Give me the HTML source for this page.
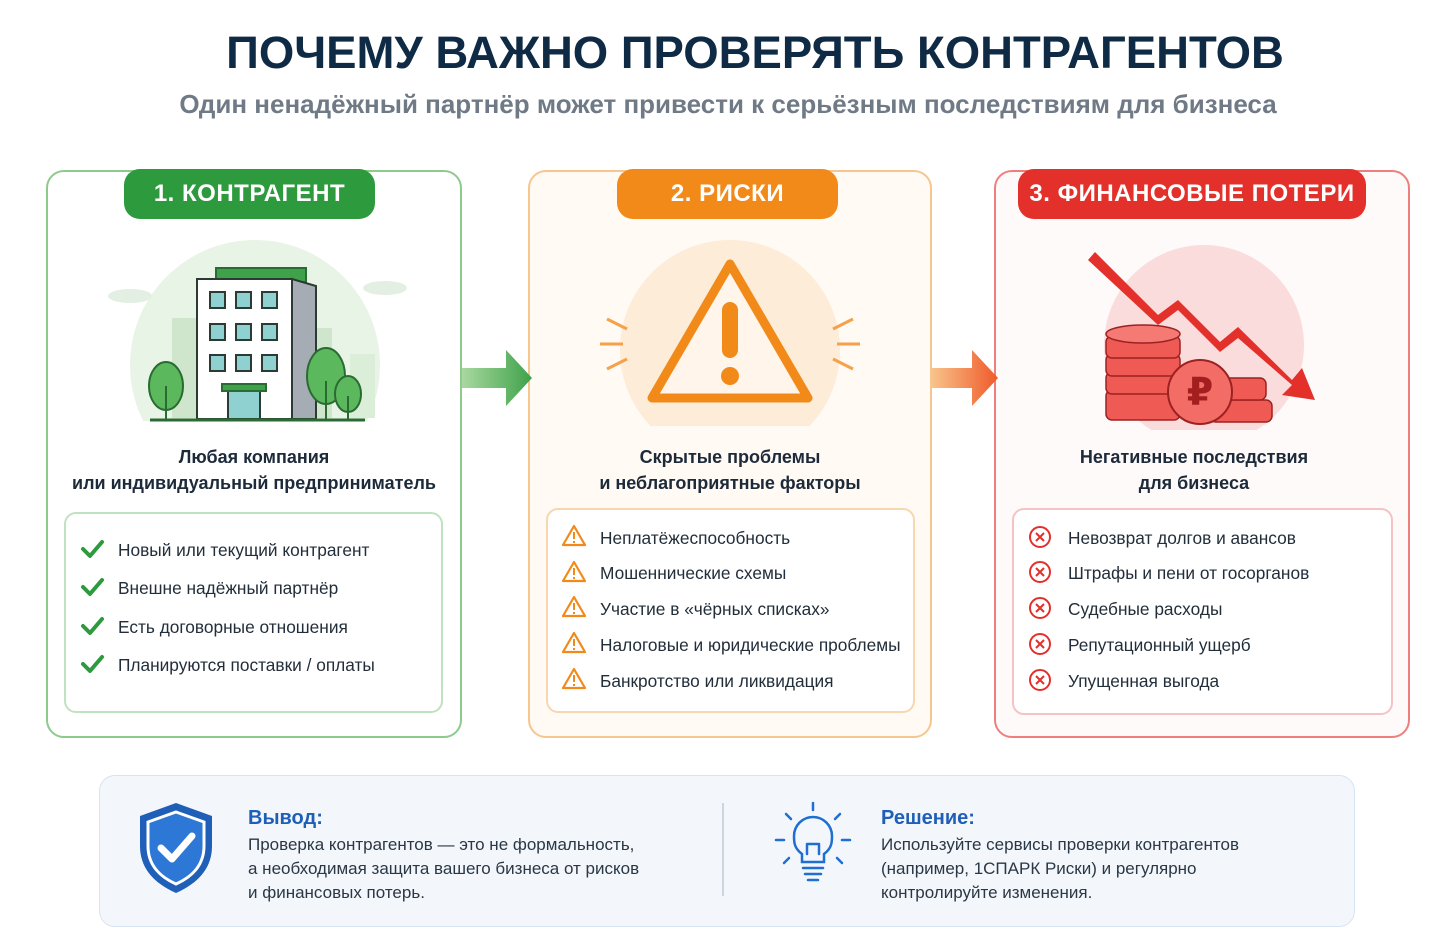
<!DOCTYPE html>
<html><head><meta charset="utf-8"><style>
*{margin:0;padding:0;box-sizing:border-box}
body{width:1430px;height:941px;background:#fff;font-family:"Liberation Sans","Noto Sans CJK SC",sans-serif;position:relative;overflow:hidden;color:#1d2b3a}
.abs{position:absolute}
.t1{left:0;width:1510px;top:27px;text-align:center;font-size:45.5px;font-weight:bold;color:#0f2a44}
.t2{left:0;width:1456px;top:89px;text-align:center;font-size:26px;font-weight:bold;color:#6f7a86}
.panel{border:2px solid;border-radius:18px}
.badge{border-radius:16px;color:#fff;font-size:24px;font-weight:bold;text-align:center;line-height:50px;letter-spacing:0.5px}
.head{text-align:center;font-size:18px;font-weight:bold;line-height:26px;color:#1c2a3a}
.inner{border:2px solid;border-radius:12px;background:#fff}
.li{position:absolute;font-size:17.3px;color:#222e3a;white-space:nowrap}
.bt{font-size:17px;line-height:24px;color:#2a3744}
.bh{font-size:20px;font-weight:bold;color:#1f5fb8}
</style></head><body>
<div class="abs t1">ПОЧЕМУ ВАЖНО ПРОВЕРЯТЬ КОНТРАГЕНТОВ</div>
<div class="abs t2">Один ненадёжный партнёр может привести к серьёзным последствиям для бизнеса</div>

<div class="abs panel" style="left:46px;top:170px;width:416px;height:568px;border-color:#8ccb8c;background:#fff"></div>
<div class="abs panel" style="left:528px;top:170px;width:404px;height:568px;border-color:#f6c690;background:#fffaf4"></div>
<div class="abs panel" style="left:994px;top:170px;width:416px;height:568px;border-color:#ef7f7f;background:#fffafa"></div>

<div class="abs badge" style="left:124px;top:169px;width:251px;background:#2e9a3e">1. КОНТРАГЕНТ</div>
<div class="abs badge" style="left:617px;top:169px;width:221px;background:#f28a1a">2. РИСКИ</div>
<div class="abs badge" style="left:1018px;top:169px;width:348px;background:#e3302b">3. ФИНАНСОВЫЕ ПОТЕРИ</div>

<svg class="abs" style="left:460px;top:348px" width="76" height="60"><defs><linearGradient id="ga"><stop offset="0" stop-color="#a9d8a0"/><stop offset="1" stop-color="#3fa24a"/></linearGradient></defs><path d="M2 20H46V2L72 30L46 58V40H2Z" fill="url(#ga)"/></svg>
<svg class="abs" style="left:930px;top:348px" width="72" height="60"><defs><linearGradient id="gb"><stop offset="0" stop-color="#f9c28a"/><stop offset="1" stop-color="#ef5a2a"/></linearGradient></defs><path d="M2 20H42V2L68 30L42 58V40H2Z" fill="url(#gb)"/></svg>

<!-- building -->
<svg class="abs" style="left:100px;top:230px" width="310" height="196">
<circle cx="155" cy="135" r="125" fill="#e8f4e6"/>
<rect x="0" y="191" width="310" height="10" fill="#fff"/>
<ellipse cx="30" cy="66" rx="22" ry="7" fill="#e3efe2"/><ellipse cx="285" cy="58" rx="22" ry="7" fill="#e3efe2"/>
<rect x="72" y="88" width="26" height="100" fill="#cfe6cc"/><rect x="210" y="98" width="22" height="90" fill="#cfe6cc"/><rect x="250" y="124" width="25" height="64" fill="#dbeed8"/>
<rect x="116" y="38" width="90" height="14" fill="#3fa24a" stroke="#2a6b33" stroke-width="2"/>
<rect x="97" y="49" width="95" height="140" fill="#fff" stroke="#2b3b33" stroke-width="2"/>
<path d="M192 49L216 56V189H192Z" fill="#a5acb3" stroke="#2b3b33" stroke-width="2"/>
<g fill="#8fd0d0" stroke="#2b3b33" stroke-width="2">
<rect x="110" y="62" width="15" height="16"/><rect x="136" y="62" width="15" height="16"/><rect x="162" y="62" width="15" height="16"/>
<rect x="110" y="94" width="15" height="16"/><rect x="136" y="94" width="15" height="16"/><rect x="162" y="94" width="15" height="16"/>
<rect x="110" y="125" width="15" height="16"/><rect x="136" y="125" width="15" height="16"/><rect x="162" y="125" width="15" height="16"/>
<rect x="128" y="161" width="32" height="28"/></g>
<rect x="122" y="154" width="44" height="7" fill="#3fa24a" stroke="#2a6b33" stroke-width="2"/>
<g fill="#5cb85c" stroke="#2a6b33" stroke-width="2"><ellipse cx="66" cy="156" rx="17" ry="24"/><ellipse cx="226" cy="146" rx="19" ry="28"/><ellipse cx="248" cy="164" rx="13" ry="18"/></g>
<g stroke="#2a6b33" stroke-width="2"><line x1="66" y1="156" x2="66" y2="190"/><line x1="226" y1="151" x2="226" y2="190"/><line x1="248" y1="166" x2="248" y2="190"/></g>
<line x1="50" y1="190" x2="265" y2="190" stroke="#2a6b33" stroke-width="3"/>
</svg>

<!-- warning -->
<svg class="abs" style="left:595px;top:230px" width="270" height="196">
<circle cx="135" cy="120" r="110" fill="#fdecd8"/>
<rect x="0" y="196" width="270" height="10" fill="#fffaf4"/>
<path d="M135 34L213 168H57Z" fill="#fff5ea" stroke="#f28a1a" stroke-width="9" stroke-linejoin="round"/>
<rect x="127" y="72" width="16" height="56" rx="8" fill="#f28a1a"/><circle cx="135" cy="146" r="9" fill="#f28a1a"/>
<g stroke="#f6a04a" stroke-width="3"><line x1="5" y1="114" x2="28" y2="114"/><line x1="12" y1="89" x2="32" y2="99"/><line x1="12" y1="139" x2="32" y2="129"/><line x1="242" y1="114" x2="265" y2="114"/><line x1="238" y1="99" x2="258" y2="89"/><line x1="238" y1="129" x2="258" y2="139"/></g>
</svg>

<!-- finance -->
<svg class="abs" style="left:1070px;top:240px" width="270" height="190">
<circle cx="134" cy="105" r="100" fill="#fbdcdc"/>
<g stroke="#9c2222" stroke-width="1.5" fill="#ef5a55">
<rect x="36" y="150" width="74" height="30" rx="6"/><rect x="36" y="132" width="74" height="22" rx="6"/><rect x="36" y="114" width="74" height="22" rx="6"/><rect x="36" y="96" width="74" height="22" rx="6"/><ellipse cx="73" cy="94" rx="37" ry="9" fill="#f57a74"/>
<rect x="140" y="160" width="62" height="22" rx="6"/><rect x="140" y="138" width="56" height="22" rx="6"/>
</g>
<path d="M25 12L88 75L108 60L150 102L168 87L222 140L232 128L245 160L212 155L222 145L168 98L150 112L108 70L88 85L18 20Z" fill="#e3302b"/>
<circle cx="130" cy="152" r="32" fill="#f36c66" stroke="#9c2222" stroke-width="2"/>
<text x="130" y="165" text-anchor="middle" font-size="38" font-weight="bold" fill="#a31e1e" font-family="Liberation Sans,DejaVu Sans,sans-serif">₽</text>
</svg>

<div class="abs head" style="left:46px;width:416px;top:444px">Любая компания<br>или индивидуальный предприниматель</div>
<div class="abs head" style="left:528px;width:404px;top:444px">Скрытые проблемы<br>и неблагоприятные факторы</div>
<div class="abs head" style="left:994px;width:400px;top:444px">Негативные последствия<br>для бизнеса</div>

<div class="abs inner" style="left:64px;top:512px;width:379px;height:201px;border-color:#bfe2bf"></div>
<div class="abs inner" style="left:546px;top:508px;width:369px;height:205px;border-color:#f8d6b0"></div>
<div class="abs inner" style="left:1012px;top:508px;width:381px;height:207px;border-color:#f5c3c3"></div>

<svg class="abs" style="left:80px;top:538px" width="26" height="140"><g fill="none" stroke="#2e9a3e" stroke-width="4" stroke-linecap="round" stroke-linejoin="round">
<path d="M3 11l7 7L22 4"/><path d="M3 49l7 7L22 42"/><path d="M3 88l7 7L22 81"/><path d="M3 126l7 7L22 119"/></g></svg>
<div class="li" style="left:118px;top:540px">Новый или текущий контрагент</div>
<div class="li" style="left:118px;top:578px">Внешне надёжный партнёр</div>
<div class="li" style="left:118px;top:617px">Есть договорные отношения</div>
<div class="li" style="left:118px;top:655px">Планируются поставки / оплаты</div>

<svg class="abs" style="left:562px;top:524px" width="26" height="170">
<g fill="none" stroke="#f28a1a" stroke-width="2.2" stroke-linejoin="round">
<path d="M12 2L23 21H1Z"/><path d="M12 38L23 57H1Z"/><path d="M12 73L23 92H1Z"/><path d="M12 109L23 128H1Z"/><path d="M12 145L23 164H1Z"/></g>
<g fill="#f28a1a"><rect x="11" y="8" width="2" height="7"/><rect x="11" y="17" width="2" height="2"/><rect x="11" y="44" width="2" height="7"/><rect x="11" y="53" width="2" height="2"/><rect x="11" y="79" width="2" height="7"/><rect x="11" y="88" width="2" height="2"/><rect x="11" y="115" width="2" height="7"/><rect x="11" y="124" width="2" height="2"/><rect x="11" y="151" width="2" height="7"/><rect x="11" y="160" width="2" height="2"/></g></svg>
<div class="li" style="left:600px;top:528px">Неплатёжеспособность</div>
<div class="li" style="left:600px;top:563px">Мошеннические схемы</div>
<div class="li" style="left:600px;top:599px">Участие в «чёрных списках»</div>
<div class="li" style="left:600px;top:635px">Налоговые и юридические проблемы</div>
<div class="li" style="left:600px;top:671px">Банкротство или ликвидация</div>

<svg class="abs" style="left:1028px;top:524px" width="26" height="170">
<g fill="none" stroke="#e3302b" stroke-width="2"><circle cx="12" cy="13" r="10"/><circle cx="12" cy="48" r="10"/><circle cx="12" cy="84" r="10"/><circle cx="12" cy="120" r="10"/><circle cx="12" cy="156" r="10"/>
<path d="M8 9l8 8M16 9l-8 8M8 44l8 8M16 44l-8 8M8 80l8 8M16 80l-8 8M8 116l8 8M16 116l-8 8M8 152l8 8M16 152l-8 8"/></g></svg>
<div class="li" style="left:1068px;top:528px">Невозврат долгов и авансов</div>
<div class="li" style="left:1068px;top:563px">Штрафы и пени от госорганов</div>
<div class="li" style="left:1068px;top:599px">Судебные расходы</div>
<div class="li" style="left:1068px;top:635px">Репутационный ущерб</div>
<div class="li" style="left:1068px;top:671px">Упущенная выгода</div>

<div class="abs" style="left:99px;top:775px;width:1256px;height:152px;background:#f3f7fc;border:1.5px solid #d6e3f2;border-radius:16px"></div>
<svg class="abs" style="left:136px;top:800px" width="80" height="96">
<path d="M40 3L76 16V46C76 70 60 84 40 93C20 84 4 70 4 46V16Z" fill="#1f5fb8"/>
<path d="M40 12L68 22V46C68 65 56 77 40 84C24 77 12 65 12 46V22Z" fill="#2d78d6" stroke="#fff" stroke-width="3"/>
<path d="M25 48L36 59L56 36" fill="none" stroke="#fff" stroke-width="7" stroke-linecap="round" stroke-linejoin="round"/></svg>
<div class="abs bh" style="left:248px;top:807px">Вывод:</div>
<div class="abs bt" style="left:248px;top:833px">Проверка контрагентов — это не формальность,<br>а необходимая защита вашего бизнеса от рисков<br>и финансовых потерь.</div>
<div class="abs" style="left:722px;top:803px;width:1.5px;height:93px;background:#c9d6e4"></div>
<svg class="abs" style="left:772px;top:800px" width="82" height="84">
<g fill="none" stroke="#1f6fd0" stroke-width="2.5" stroke-linecap="round">
<path d="M30 54C22 48 22 42 22 36A19 19 0 0 1 60 36C60 42 60 48 52 54V62H30Z"/>
<path d="M31 68H51M33 74H49M36 80H46"/>
<path d="M41 3V10M14 14L19 19M68 14L63 19M4 40H12M70 40H78M12 63L17 58M70 63L65 58"/>
<path d="M35 54V44M47 54V44M35 44H47"/></g></svg>
<div class="abs bh" style="left:881px;top:807px">Решение:</div>
<div class="abs bt" style="left:881px;top:833px">Используйте сервисы проверки контрагентов<br>(например, 1СПАРК Риски) и регулярно<br>контролируйте изменения.</div>
</body></html>
